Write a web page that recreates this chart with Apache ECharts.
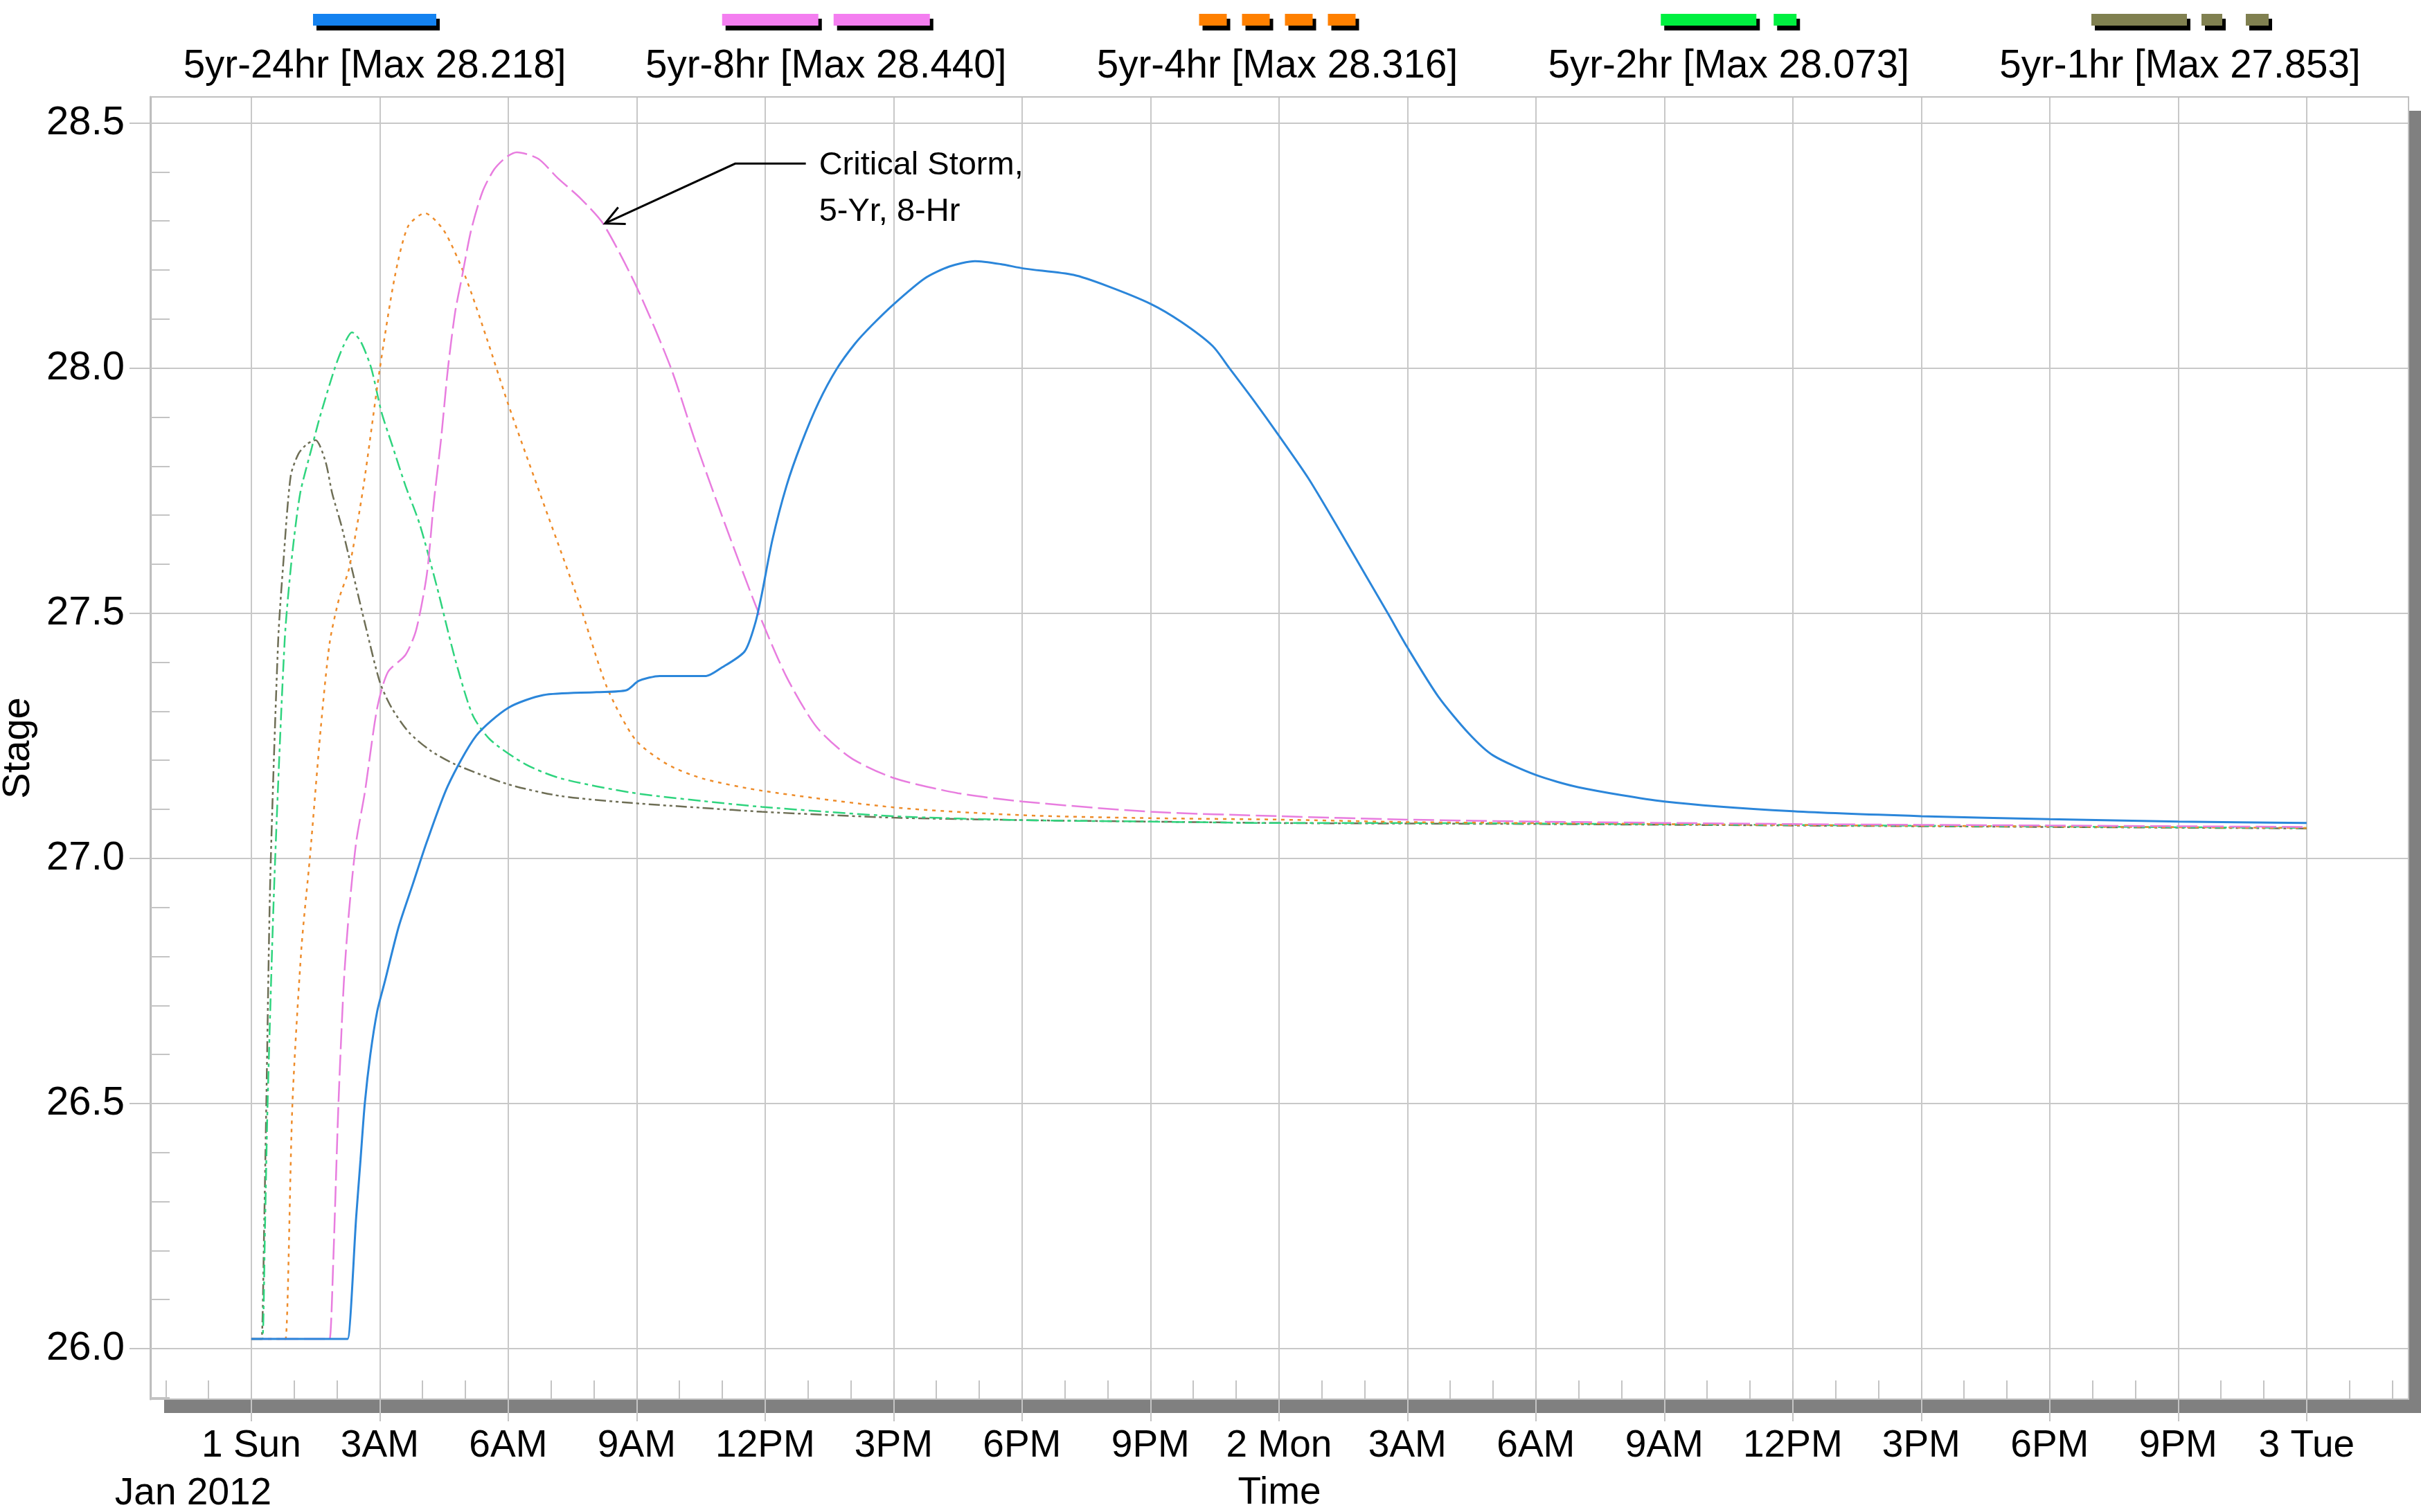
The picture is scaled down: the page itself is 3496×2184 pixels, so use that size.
<!DOCTYPE html>
<html>
<head>
<meta charset="utf-8" />
<title>Stage - 5yr storms</title>
<script src="https://cdn.jsdelivr.net/npm/echarts@6/dist/echarts.min.js"></script>
<style>
  html, body { margin: 0; padding: 0; background: #fff; }
  #chart { width: 3496px; height: 2184px; }
</style>
</head>
<body>
<div id="chart"></div>
<script>
// x values are hours after 1 Jan 2012 00:00
var tickHours = [0, 3, 6, 9, 12, 15, 18, 21, 24, 27, 30, 33, 36, 39, 42, 45, 48];
var tickLabels = ['1 Sun', '3AM', '6AM', '9AM', '12PM', '3PM', '6PM', '9PM', '2 Mon',
                  '3AM', '6AM', '9AM', '12PM', '3PM', '6PM', '9PM', '3 Tue'];
var stageTicks = [26.0, 26.5, 27.0, 27.5, 28.0, 28.5];

var names = ['5yr-24hr', '5yr-8hr', '5yr-4hr', '5yr-2hr', '5yr-1hr'];

// 5yr-24hr
var t24 = [0, 2.2, 2.25, 2.45, 2.55, 2.65, 2.78, 2.94, 3.11, 3.44, 3.77,
           4.1, 4.59, 5.25, 6.0, 6.82, 8.06, 8.76, 9.05, 9.54, 10.62,
           10.95, 11.52, 11.77, 11.92, 12.17, 12.5, 12.84, 13.25, 13.67, 14.1,
           14.49, 15.0, 15.73, 16.3, 16.9, 17.5, 18.04, 19.2, 20.0, 21.0,
           21.72, 22.45, 22.84, 23.4, 24.0, 24.68, 25.34, 26.06, 26.56, 27.0,
           27.72, 28.43, 29.0, 30.0, 31.0, 33.0, 36.0, 39.0, 42.0, 45.0, 48.0];
var v24 = [26.02, 26.02, 26.02, 26.27, 26.385, 26.5, 26.6, 26.688, 26.746, 26.86, 26.947,
           27.034, 27.148, 27.25, 27.307, 27.333, 27.339, 27.343, 27.362, 27.372, 27.372,
           27.387, 27.422, 27.48, 27.538, 27.65, 27.76, 27.845, 27.93, 27.998, 28.05,
           28.087, 28.13, 28.183, 28.207, 28.218, 28.212, 28.203, 28.19, 28.167, 28.131,
           28.094, 28.045, 28.0, 27.935, 27.862, 27.776, 27.68, 27.572, 27.497, 27.43,
           27.33, 27.255, 27.21, 27.17, 27.145, 27.116, 27.096, 27.086, 27.08, 27.075, 27.072];

// 5yr-8hr
var t8 = [0, 1.78, 1.83, 1.91, 2.035, 2.16, 2.28, 2.45, 2.65, 2.94, 3.19,
          3.6, 3.85, 4.1, 4.26, 4.43, 4.59, 4.76, 4.92, 5.13, 5.4,
          5.67, 5.95, 6.2, 6.7, 7.15, 7.7, 8.22, 9.0, 9.8, 10.37,
          11.07, 11.85, 12.5, 13.2, 14.0, 15.0, 16.5, 18.0, 21.0, 24.0,
          27.0, 30.0, 36.0, 42.0, 48.0];
var v8 = [26.02, 26.02, 26.02, 26.169, 26.5, 26.746, 26.89, 27.034, 27.134, 27.307, 27.38,
          27.415, 27.466, 27.58, 27.725, 27.854, 27.998, 28.114, 28.186, 28.28, 28.36,
          28.405, 28.43, 28.44, 28.427, 28.388, 28.345, 28.294, 28.165, 28.0, 27.85,
          27.68, 27.5, 27.37, 27.268, 27.205, 27.164, 27.133, 27.116, 27.095, 27.086,
          27.079, 27.075, 27.07, 27.067, 27.064];

// 5yr-4hr
var t4 = [0, 0.75, 0.8, 0.96, 1.17, 1.37, 1.62, 1.83, 2.05, 2.28, 2.61,
          3.0, 3.35, 3.66, 4.05, 4.5, 5.0, 5.5, 6.0, 6.82, 7.65,
          8.3, 8.97, 9.71, 10.53, 11.92, 15, 18, 21, 24, 27,
          30, 36, 42, 48];
var v4 = [26.02, 26.02, 26.02, 26.5, 26.817, 27.004, 27.264, 27.44, 27.53, 27.59, 27.754,
          27.998, 28.186, 28.289, 28.316, 28.28, 28.186, 28.06, 27.926, 27.725, 27.523,
          27.35, 27.242, 27.192, 27.163, 27.138, 27.104, 27.088, 27.082, 27.079, 27.074,
          27.072, 27.068, 27.065, 27.062];

// 5yr-2hr
var t2 = [0, 0.22, 0.26, 0.32, 0.38, 0.54, 0.78, 0.94, 1.14, 1.41, 1.6,
          1.95, 2.15, 2.35, 2.55, 2.8, 3.04, 3.3, 3.6, 3.93, 4.34,
          4.755, 5.17, 5.58, 6.4, 7.23, 8.88, 10.53, 11.92, 15, 18,
          21, 24, 27, 30, 36, 42, 48];
var v2 = [26.02, 26.02, 26.02, 26.25, 26.5, 26.96, 27.446, 27.608, 27.744, 27.837, 27.9,
          28.0, 28.045, 28.073, 28.055, 28.0, 27.91, 27.84, 27.76, 27.682, 27.552,
          27.408, 27.292, 27.242, 27.192, 27.163, 27.134, 27.117, 27.105, 27.086, 27.078,
          27.075, 27.072, 27.072, 27.071, 27.068, 27.065, 27.062];

// 5yr-1hr
var t1 = [0, 0.2, 0.24, 0.3, 0.35, 0.443, 0.628, 0.752, 0.92, 1.1, 1.3,
          1.5, 1.73, 1.89, 2.1, 2.3, 2.69, 3.0, 3.27, 3.68, 4.18,
          4.755, 6.0, 7.23, 8.88, 10.53, 11.92, 15, 18, 21, 24,
          27, 30, 36, 42, 48];
var v1 = [26.02, 26.02, 26.02, 26.25, 26.5, 26.96, 27.446, 27.608, 27.78, 27.825, 27.845,
          27.853, 27.81, 27.744, 27.68, 27.608, 27.466, 27.36, 27.308, 27.257, 27.22,
          27.192, 27.151, 27.127, 27.113, 27.103, 27.095, 27.083, 27.078, 27.075, 27.072,
          27.071, 27.07, 27.067, 27.064, 27.061];

// annotation anchor points (hours, stage)
var annoTip = [8.26, 28.295];
var annoKnee = [11.3, 28.417];
var annoEnd = [12.95, 28.417];

var times = [t24, t8, t4, t2, t1];
var values = [v24, v8, v4, v2, v1];
var lineColors = ['#2b86da', '#e87ddf', '#ee8c2a', '#2fd47e', '#6e6e55'];
var lineDash = ['solid', [30, 8], [5, 7], [18, 6, 5, 6], [16, 5, 4, 5, 4, 5]];
var keyColors = ['#1482f0', '#f47ef0', '#ff8000', '#00f040', '#808050'];
var keySegments = [[178], [139, 22, 139], [40, 22, 40, 22, 40, 22, 40], [138, 25, 33], [138, 21, 30, 34, 33]];

var fontFam = '"Liberation Sans", Arial, sans-serif';
var xMin = -2.36, xMax = 50.38, yMin = 25.897, yMax = 28.553;
var gridBox = { left: 217, top: 140, right: 18, bottom: 163 };

var minorHours = [];
for (var h = -2; h <= 50; h++) minorHours.push(h);
var minorStage = [];
for (var s = 259; s <= 285; s++) minorStage.push(s / 10);

function pairs(ts, vs) {
  return ts.map(function (t, i) { return [t, vs[i]]; });
}

var series = [];
for (var i = names.length - 1; i >= 0; i--) {
  series.push({
    name: names[i],
    type: 'line',
    data: pairs(times[i], values[i]),
    symbol: 'none',
    smooth: 0.25,
    silent: true,
    lineStyle: { color: lineColors[i], width: i === 0 ? 3 : 2.5, type: lineDash[i] }
  });
}

var option = {
  backgroundColor: '#ffffff',
  animation: false,
  grid: {
    left: gridBox.left, top: gridBox.top, right: gridBox.right, bottom: gridBox.bottom,
    outerBoundsMode: 'none',
    show: true, backgroundColor: '#ffffff', borderWidth: 0,
    shadowColor: '#808080', shadowOffsetX: 20, shadowOffsetY: 20, shadowBlur: 0
  },
  xAxis: [{
    type: 'value', min: xMin, max: xMax,
    name: 'Time', nameLocation: 'middle', nameGap: 108,
    nameTextStyle: { fontSize: 55, color: '#000', fontFamily: fontFam },
    axisLine: { show: false, onZero: false },
    axisTick: { show: true, customValues: tickHours, length: 32, lineStyle: { color: '#c4c4c4', width: 2 } },
    axisLabel: {
      customValues: tickHours, margin: 40, fontSize: 55, color: '#000', fontFamily: fontFam,
      formatter: function (v) { return tickLabels[Math.round(v / 3)]; }
    },
    splitLine: { show: true, lineStyle: { color: '#c8c8c8', width: 2 } }
  }, {
    type: 'value', min: xMin, max: xMax, position: 'bottom',
    axisLine: { show: false, onZero: false }, axisLabel: { show: false }, splitLine: { show: false },
    axisTick: { show: true, inside: true, customValues: minorHours, length: 27, lineStyle: { color: '#c4c4c4', width: 2 } }
  }],
  yAxis: [{
    type: 'value', min: yMin, max: yMax, position: 'left',
    name: 'Stage', nameLocation: 'middle', nameGap: 162, nameRotate: 90,
    nameTextStyle: { fontSize: 56, color: '#000', fontFamily: fontFam },
    axisLine: { show: true, onZero: false, lineStyle: { color: '#b4b4b4', width: 3 } },
    axisTick: { show: true, customValues: stageTicks, length: 30, lineStyle: { color: '#c4c4c4', width: 2 } },
    axisLabel: {
      customValues: stageTicks, margin: 37, fontSize: 58, color: '#000', fontFamily: fontFam,
      formatter: function (v) { return v.toFixed(1); }
    },
    splitLine: { show: true, lineStyle: { color: '#c8c8c8', width: 2 } }
  }, {
    type: 'value', min: yMin, max: yMax, position: 'left',
    axisLine: { show: false, onZero: false }, axisLabel: { show: false }, splitLine: { show: false },
    axisTick: { show: true, inside: true, customValues: minorStage, length: 28, lineStyle: { color: '#c4c4c4', width: 2 } }
  }],
  series: series
};

var chart = echarts.init(document.getElementById('chart'));
chart.setOption(option);

var W = 3496, H = 2184;
var graphics = [];

// plot frame (drawn without shadow so only the fill casts it)
graphics.push({
  type: 'rect', z: 1, silent: true,
  shape: { x: gridBox.left, y: gridBox.top, width: W - gridBox.left - gridBox.right, height: H - gridBox.top - gridBox.bottom },
  style: { fill: null, stroke: '#c0c0c0', lineWidth: 2 }
});

// legend keys (bar pattern above each label)
names.forEach(function (name, i) {
  var cx = 541 + i * 651.75;
  var segs = keySegments[i];
  var total = segs.reduce(function (a, b) { return a + b; }, 0);
  var x = cx - total / 2;
  segs.forEach(function (len, k) {
    if (k % 2 === 0) {
      graphics.push({
        type: 'rect', z: 10,
        shape: { x: x, y: 20, width: len, height: 17 },
        style: { fill: keyColors[i], shadowColor: '#000', shadowOffsetX: 5, shadowOffsetY: 7, shadowBlur: 0 }
      });
    }
    x += len;
  });
  var peak = Math.max.apply(null, values[i]);
  graphics.push({
    type: 'text', z: 10,
    style: {
      text: name + ' [Max ' + peak.toFixed(3) + ']',
      x: cx, y: 96, align: 'center', verticalAlign: 'middle',
      textAlign: 'center', textVerticalAlign: 'middle',
      fontSize: 56.5, fontFamily: fontFam, fill: '#000'
    }
  });
});

graphics.push({
  type: 'text', z: 10,
  style: {
    text: 'Jan 2012', x: 279, y: 2158, align: 'center', verticalAlign: 'middle',
    textAlign: 'center', textVerticalAlign: 'middle',
    fontSize: 55, fontFamily: fontFam, fill: '#000'
  }
});

// annotation arrow
var finder = { xAxisIndex: 0, yAxisIndex: 0 };
var tip = chart.convertToPixel(finder, annoTip);
var knee = chart.convertToPixel(finder, annoKnee);
var end = chart.convertToPixel(finder, annoEnd);
graphics.push({
  type: 'polyline', z: 10,
  shape: { points: [end, knee, tip] },
  style: { stroke: '#000', lineWidth: 3, fill: null }
});
var dx = knee[0] - tip[0], dy = knee[1] - tip[1];
var len = Math.sqrt(dx * dx + dy * dy);
var ux = dx / len, uy = dy / len;
var armLen = 30, ang = 26 * Math.PI / 180;
function rot(a) {
  return [tip[0] + armLen * (ux * Math.cos(a) - uy * Math.sin(a)),
          tip[1] + armLen * (ux * Math.sin(a) + uy * Math.cos(a))];
}
graphics.push({
  type: 'polyline', z: 10,
  shape: { points: [rot(ang), tip, rot(-ang)] },
  style: { stroke: '#000', lineWidth: 3, fill: null }
});
graphics.push({
  type: 'text', z: 10,
  style: {
    text: 'Critical Storm,\n5-Yr, 8-Hr',
    x: end[0] + 19, y: end[1] - 31, align: 'left', verticalAlign: 'top',
    textAlign: 'left', textVerticalAlign: 'top',
    fontSize: 47, lineHeight: 67, fontFamily: fontFam, fill: '#000'
  }
});

chart.setOption({ graphic: graphics });
</script>
</body>
</html>
